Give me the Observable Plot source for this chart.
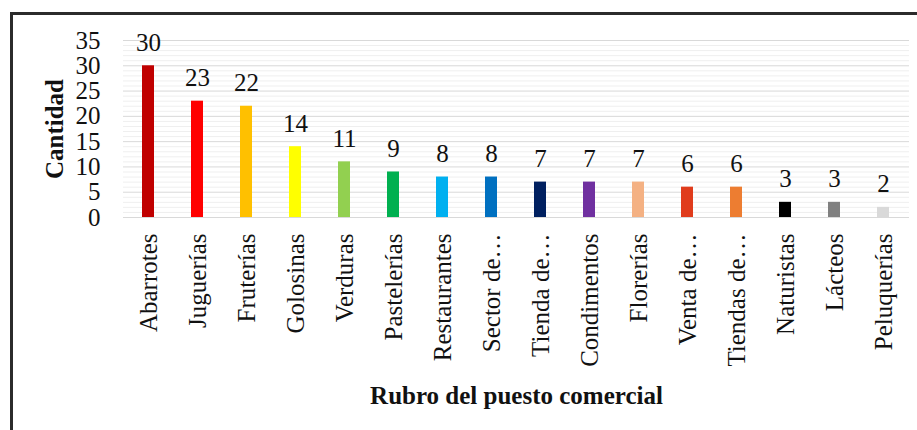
<!DOCTYPE html>
<html>
<head>
<meta charset="utf-8">
<script src="https://cdn.jsdelivr.net/npm/d3@7"></script>
<script src="https://cdn.jsdelivr.net/npm/@observablehq/plot@0.6"></script>
<style>
  html, body { margin: 0; padding: 0; background: #fff; }
  #wrap { position: relative; width: 917px; height: 430px; overflow: hidden; }
  #wrap svg { position: absolute; left: 0; top: 0; }
  #frame { position: absolute; left: 10px; top: 12px; right: -10px; bottom: -10px;
           border-left: 3px solid #2b2b2b; border-top: 3px solid #2b2b2b; pointer-events: none; }
</style>
</head>
<body>
<div id="wrap"><div id="frame"></div></div>
<script>
const categories = ["Abarrotes", "Juguerías", "Fruterías", "Golosinas", "Verduras", "Pastelerías",
  "Restaurantes", "Sector de…", "Tienda de…", "Condimentos", "Florerías", "Venta de…",
  "Tiendas de…", "Naturistas", "Lácteos", "Peluquerías"];
const values = [30, 23, 22, 14, 11, 9, 8, 8, 7, 7, 7, 6, 6, 3, 3, 2];
const barColors = ["#C00000", "#FF0000", "#FFC000", "#FFFF00", "#92D050", "#00B050",
  "#00B0F0", "#0070C0", "#002060", "#7030A0", "#F4B183", "#E03C1C",
  "#ED7D31", "#000000", "#808080", "#D9D9D9"];
const yTicks = [0, 5, 10, 15, 20, 25, 30, 35];
const yMinorTicks = [1, 2, 3, 4, 6, 7, 8, 9, 11, 12, 13, 14, 16, 17, 18, 19, 21, 22, 23, 24, 26, 27, 28, 29, 31, 32, 33, 34];
const xTitle = "Rubro del puesto comercial";
const yTitle = "Cantidad";

const rows = categories.map((c, i) => ({cat: c, value: values[i], color: barColors[i]}));

const chart = Plot.plot({
  width: 917,
  height: 430,
  marginLeft: 123,
  marginRight: 8,
  marginTop: 40,
  marginBottom: 213,
  style: {fontFamily: "'Liberation Serif', 'Times New Roman', serif", fontSize: "25px", color: "#111", background: "transparent"},
  x: {type: "band", domain: categories, paddingInner: 0.755, paddingOuter: 0.3775,
      tickRotate: -90, tickSize: 0, tickPadding: 16, label: null},
  y: {domain: [0, 35], ticks: yTicks, tickSize: 0, tickPadding: 23, label: null},
  color: {type: "identity"},
  marks: [
    Plot.ruleY(yMinorTicks, {stroke: "#efefef", strokeWidth: 1}),
    Plot.ruleY(yTicks, {stroke: "#d9d9d9", strokeWidth: 1}),
    Plot.barY(rows, {x: "cat", y: "value", fill: "color"}),
    Plot.text(rows, {x: "cat", y: "value", text: d => String(d.value), dy: -15, lineAnchor: "bottom", fill: "#111"}),
    Plot.text([xTitle], {frameAnchor: "bottom", dy: 186, textAnchor: "middle", lineAnchor: "bottom", fontWeight: "bold", fill: "#111"}),
    Plot.text([yTitle], {frameAnchor: "left", dx: -61, rotate: -90, textAnchor: "middle", lineAnchor: "bottom", fontWeight: "bold", fill: "#111"})
  ]
});
document.getElementById("wrap").insertBefore(chart, document.getElementById("frame"));
</script>
</body>
</html>
